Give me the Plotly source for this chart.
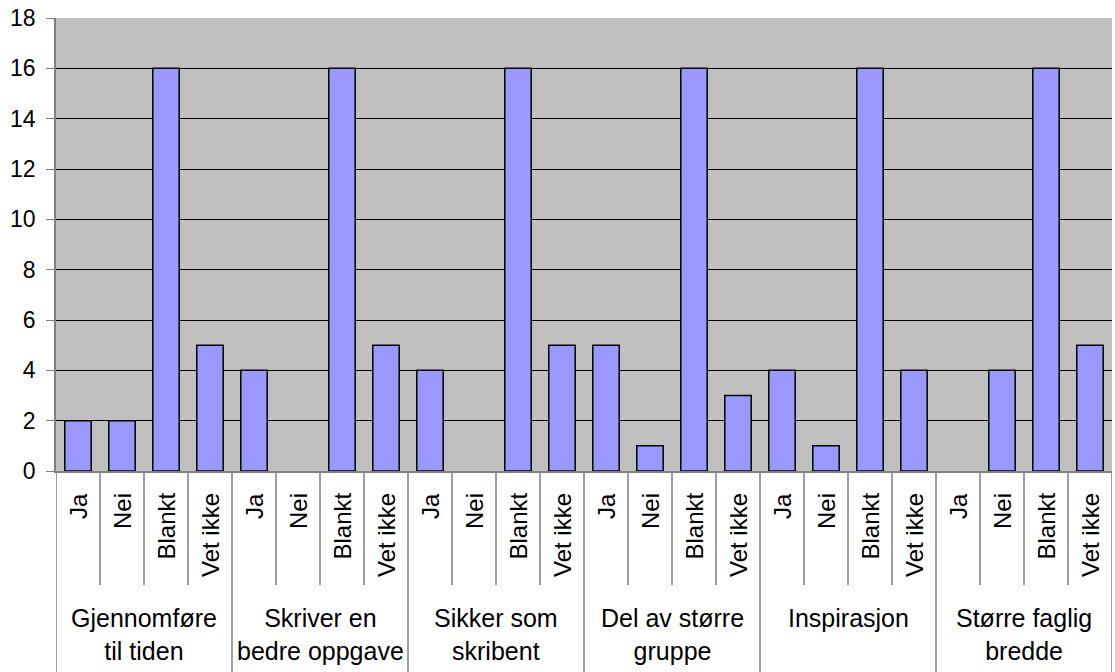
import plotly.graph_objects as go

# Spørsmål (grupper) og svaralternativer
groups = [
    "Gjennomføre<br>til tiden",
    "Skriver en<br>bedre oppgave",
    "Sikker som<br>skribent",
    "Del av større<br>gruppe",
    "Inspirasjon",
    "Større faglig<br>bredde",
]
answers = ["Ja", "Nei", "Blankt", "Vet ikke"]

# Antall svar per gruppe (Ja, Nei, Blankt, Vet ikke)
gjennomfore = [2, 2, 16, 5]
skriver = [4, 0, 16, 5]
sikker = [4, 0, 16, 5]
del_av = [5, 1, 16, 3]
inspirasjon = [4, 1, 16, 4]
storre = [0, 4, 16, 5]

y_ticks = [0, 2, 4, 6, 8, 10, 12, 14, 16, 18]

series = [gjennomfore, skriver, sikker, del_av, inspirasjon, storre]
values = [v for s in series for v in s]
labels = [a for _ in groups for a in answers]
xpos = list(range(len(values)))

W, H = 1115, 672
M_L, M_R, M_T, M_B = 56, 3, 18, 201
plot_h = H - M_T - M_B


def py(px_below):
    """Pikselavstand under x-aksen -> paper-koordinat."""
    return -px_below / plot_h


FONT = "Liberation Sans, Arial, sans-serif"

fig = go.Figure(go.Bar(
    x=xpos,
    y=values,
    width=0.6,
    marker=dict(
        color="#9999FF",
        # ingen kantlinje på søyler med verdi 0
        line=dict(color="#000000", width=[1.5 if v else 0 for v in values]),
    ),
    showlegend=False,
))

# Kategorietiketter (roterte)
for x, lab in zip(xpos, labels):
    fig.add_annotation(
        x=x, y=py(20), xref="x", yref="paper",
        text=lab, textangle=-90, showarrow=False,
        xanchor="center", yanchor="top",
        font=dict(family=FONT, size=24, color="#000000"),
    )

# Gruppetiketter
for g, name in enumerate(groups):
    fig.add_annotation(
        x=g * len(answers) + (len(answers) - 1) / 2, y=py(131),
        xref="x", yref="paper",
        text=name, showarrow=False,
        xanchor="center", yanchor="top",
        font=dict(family=FONT, size=25, color="#000000"),
    )

# Skillelinjer
for i in range(-1, len(values)):
    long_line = (i + 1) % len(answers) == 0
    fig.add_shape(
        type="line", xref="x", yref="paper",
        x0=i + 0.5, x1=i + 0.5, y0=0, y1=py(201 if long_line else 114),
        line=dict(color="#808080", width=1.5),
    )

fig.update_layout(
    width=W, height=H,
    margin=dict(l=M_L, r=M_R, t=M_T, b=M_B, autoexpand=False),
    paper_bgcolor="#FFFFFF",
    plot_bgcolor="#C0C0C0",
    font=dict(family=FONT, size=23, color="#000000"),
    bargap=0.4,
)
fig.update_xaxes(
    range=[-0.5, len(values) - 0.5],
    showticklabels=False, showgrid=False, zeroline=False,
    showline=True, linecolor="#808080", linewidth=1.5,
    automargin=False,
)
fig.update_yaxes(
    range=[0, 18], tickvals=y_ticks,
    showgrid=True, gridcolor="#000000", gridwidth=1,
    zeroline=False,
    showline=True, linecolor="#808080", linewidth=1.5,
    ticks="outside", ticklen=8, tickcolor="#808080",
    ticklabelstandoff=6, ticklabeloverflow="allow",
    tickfont=dict(family=FONT, size=23, color="#000000"),
    automargin=False,
)

# fjern standard body-marg slik at figuren fyller vinduet
fig.write_html(
    "out.html",
    config={"displayModeBar": False},
    post_script="document.body.style.margin='0';",
)
